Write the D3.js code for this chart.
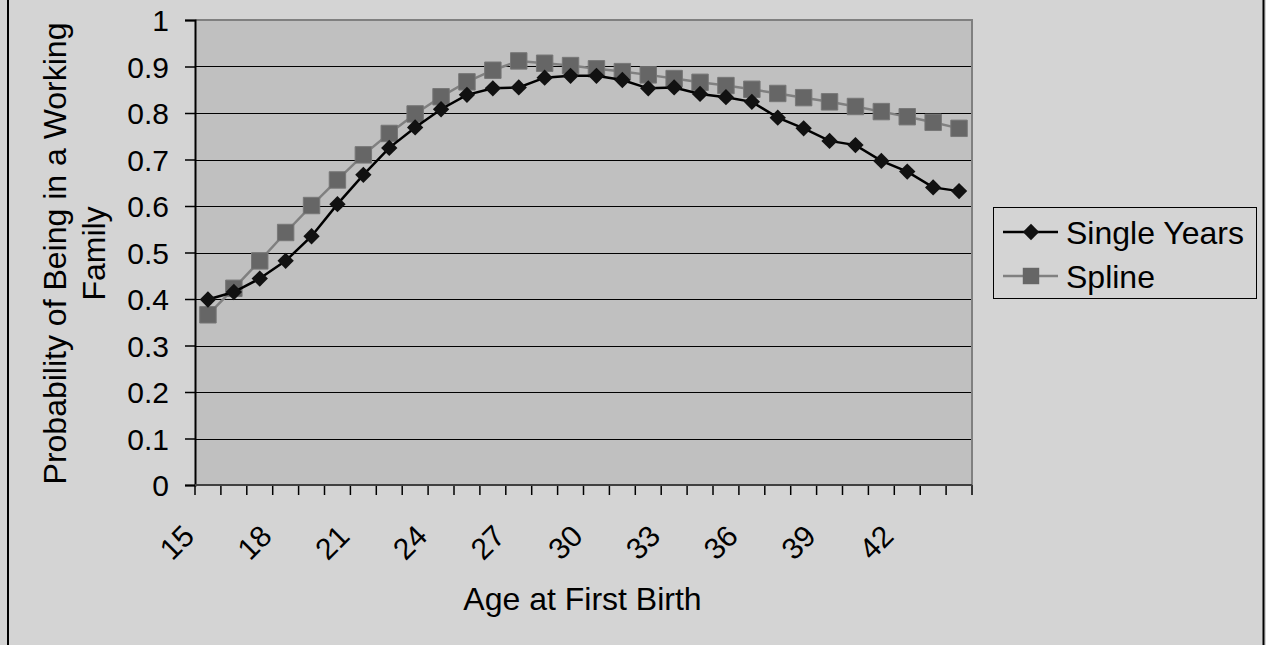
<!DOCTYPE html>
<html>
<head>
<meta charset="utf-8">
<script src="https://cdn.jsdelivr.net/npm/d3@7"></script>
<style>
  body { margin: 0; background: #d4d4d4; }
  text { font-family: "Liberation Sans", Arial, sans-serif; fill: #000; }
</style>
</head>
<body>
<div id="chart"></div>
<script>
let ages = d3.range(15, 45);
let tickAges = [15, 18, 21, 24, 27, 30, 33, 36, 39, 42];
let yTicks = [0, 0.1, 0.2, 0.3, 0.4, 0.5, 0.6, 0.7, 0.8, 0.9, 1];

let singleYears = [0.399, 0.415, 0.444, 0.482, 0.535, 0.604, 0.667, 0.725, 0.769, 0.808,
                   0.839, 0.853, 0.855, 0.876, 0.880, 0.880, 0.871, 0.853, 0.855, 0.841,
                   0.834, 0.824, 0.790, 0.767, 0.740, 0.731, 0.697, 0.674, 0.640, 0.632];
let spline = [0.366, 0.423, 0.482, 0.543, 0.601, 0.656, 0.710, 0.756, 0.798, 0.835,
              0.867, 0.892, 0.912, 0.907, 0.902, 0.895, 0.889, 0.882, 0.874, 0.866,
              0.859, 0.851, 0.842, 0.833, 0.824, 0.814, 0.803, 0.792, 0.780, 0.767];

let seriesNames = ['Single Years', 'Spline'];

let width = 1266,
    height = 645,
    plot = {left: 195, right: 972, top: 20, bottom: 485};

let svg = d3.select('#chart')
  .append('svg')
  .attr('width', width)
  .attr('height', height);

// chart area: only the left and right frame edges show
svg.append('rect')
  .attr('x', 0).attr('y', 0)
  .attr('width', width).attr('height', height)
  .attr('fill', '#d4d4d4');
svg.append('line')
  .attr('x1', 8).attr('x2', 8).attr('y1', 0).attr('y2', height)
  .attr('stroke', '#000').attr('stroke-width', 2);
svg.append('line')
  .attr('x1', 1263.5).attr('x2', 1263.5).attr('y1', 0).attr('y2', height)
  .attr('stroke', '#000').attr('stroke-width', 2);

let x = d3.scaleBand()
  .domain(ages)
  .range([plot.left, plot.right]);

let y = d3.scaleLinear()
  .domain([0, 1])
  .range([plot.bottom, plot.top]);

// plot area
svg.append('rect')
  .attr('x', plot.left).attr('y', plot.top)
  .attr('width', plot.right - plot.left).attr('height', plot.bottom - plot.top)
  .attr('fill', '#c0c0c0');

svg.append('g')
  .selectAll('line')
  .data(yTicks.slice(1, -1))
  .enter().append('line')
    .attr('x1', plot.left).attr('x2', plot.right)
    .attr('y1', d => Math.round(y(d)) + 0.5).attr('y2', d => Math.round(y(d)) + 0.5)
    .attr('stroke', '#000').attr('stroke-width', 1);

// top and right border of plot area
svg.append('path')
  .attr('d', `M${plot.left},${plot.top}H${plot.right}V${plot.bottom}`)
  .attr('fill', 'none')
  .attr('stroke', '#808080')
  .attr('stroke-width', 2);

// y axis
let yAxis = svg.append('g')
  .attr('transform', `translate(${plot.left},0)`)
  .call(d3.axisLeft(y).tickValues(yTicks).tickFormat(d3.format('')).tickSize(10).tickPadding(16));
yAxis.select('.domain').attr('stroke', '#000').attr('stroke-width', 2);
yAxis.selectAll('.tick line').attr('stroke', '#000').attr('stroke-width', 1.5);
yAxis.selectAll('.tick text')
  .attr('font-size', 30)
  .attr('font-family', '"Liberation Sans", Arial, sans-serif')
  .attr('dy', '0.36em');

// x axis: ticks at category boundaries
let boundaries = ages.map(a => x(a)).concat([plot.right]);
svg.append('g')
  .selectAll('line')
  .data(boundaries)
  .enter().append('line')
    .attr('x1', d => d).attr('x2', d => d)
    .attr('y1', plot.bottom).attr('y2', plot.bottom + 10)
    .attr('stroke', '#000').attr('stroke-width', 1.5);
svg.append('line')
  .attr('x1', plot.left).attr('x2', plot.right)
  .attr('y1', plot.bottom).attr('y2', plot.bottom)
  .attr('stroke', '#404040').attr('stroke-width', 2);

svg.append('g')
  .selectAll('text')
  .data(tickAges)
  .enter().append('text')
    .attr('transform', d => `translate(${x(d) + x.bandwidth() / 2 - 12},${plot.bottom + 53}) rotate(-45)`)
    .attr('text-anchor', 'end')
    .attr('font-size', 30)
    .text(d => d);

// axis titles
svg.append('text')
  .attr('x', (plot.left + plot.right) / 2 - 1)
  .attr('y', 610)
  .attr('text-anchor', 'middle')
  .attr('font-size', 32)
  .text('Age at First Birth');

let yTitle = svg.append('text')
  .attr('transform', `translate(66,${(plot.top + plot.bottom) / 2 + 1}) rotate(-90)`)
  .attr('text-anchor', 'middle')
  .attr('font-size', 32);
yTitle.append('tspan').attr('x', 0).attr('dy', 0).text('Probability of Being in a Working');
yTitle.append('tspan').attr('x', 0).attr('dy', 39).text('Family');

// series
let cx = a => x(a) + x.bandwidth() / 2;
let line = d3.line()
  .x((d, i) => cx(ages[i]))
  .y(d => y(d));

let diamond = d3.symbol().type(d3.symbolDiamond2).size(170);
let square = d3.symbol().type(d3.symbolSquare).size(270);

svg.append('path')
  .datum(spline)
  .attr('d', line)
  .attr('fill', 'none')
  .attr('stroke', '#808080')
  .attr('stroke-width', 2.5);
svg.append('g')
  .selectAll('path')
  .data(spline)
  .enter().append('path')
    .attr('transform', (d, i) => `translate(${cx(ages[i])},${y(d)})`)
    .attr('d', square)
    .attr('fill', '#666666')
    .attr('stroke', '#777777')
    .attr('stroke-width', 1);

svg.append('path')
  .datum(singleYears)
  .attr('d', line)
  .attr('fill', 'none')
  .attr('stroke', '#000')
  .attr('stroke-width', 2.5);
svg.append('g')
  .selectAll('path')
  .data(singleYears)
  .enter().append('path')
    .attr('transform', (d, i) => `translate(${cx(ages[i])},${y(d)})`)
    .attr('d', diamond)
    .attr('fill', '#111');

// legend
let legend = svg.append('g');
legend.append('rect')
  .attr('x', 993.5).attr('y', 207.5)
  .attr('width', 263).attr('height', 91)
  .attr('fill', '#d4d4d4')
  .attr('stroke', '#000')
  .attr('stroke-width', 1);

let legendRows = legend.selectAll('g.row')
  .data(seriesNames)
  .enter().append('g')
    .attr('class', 'row')
    .attr('transform', (d, i) => `translate(1003,${232 + i * 44})`);
legendRows.append('line')
  .attr('x1', 0).attr('x2', 55)
  .attr('stroke', (d, i) => i === 0 ? '#000' : '#808080')
  .attr('stroke-width', 2.5);
legendRows.append('path')
  .attr('transform', 'translate(28,0)')
  .attr('d', (d, i) => i === 0 ? diamond() : square())
  .attr('fill', (d, i) => i === 0 ? '#111' : '#666666');
legendRows.append('text')
  .attr('x', 63)
  .attr('dy', '0.36em')
  .attr('font-size', 32)
  .text(d => d);
</script>
</body>
</html>
